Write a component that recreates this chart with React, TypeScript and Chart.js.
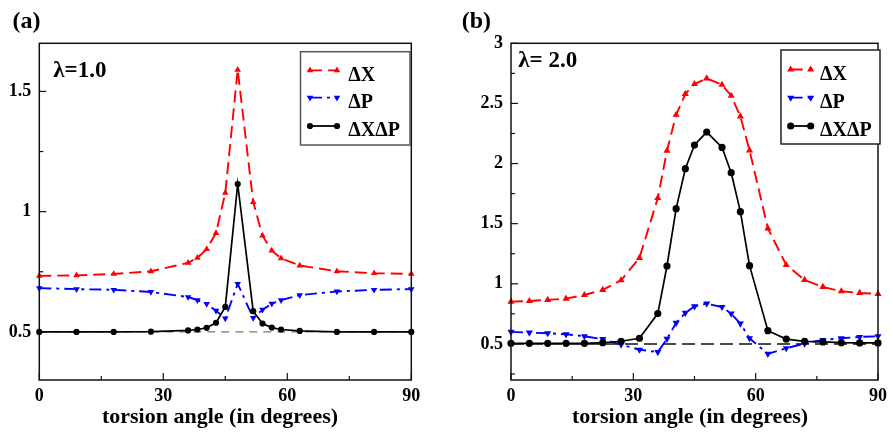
import React, { useEffect, useRef } from 'react';
import { Chart, registerables } from 'chart.js';

Chart.register(...registerables);

// ---------- data ----------
const seriesLabels = ['ΔX', 'ΔP', 'ΔXΔP'];
const xTicks = [0, 30, 60, 90];
const xMinorTicks = [15, 45, 75];
const refX = [0, 90];
const refY = [0.5, 0.5];

// panel (a), lambda = 1.0
const xA = [0, 9, 18, 27, 36, 38.25, 40.5, 42.75, 45, 48, 51.75, 54, 56.25, 58.5, 63, 72, 81, 90];
const dxA = [0.733, 0.735, 0.741, 0.752, 0.787, 0.808, 0.844, 0.911, 1.078, 1.59, 1.04, 0.9, 0.838, 0.806, 0.776, 0.752, 0.744, 0.741];
const dpA = [0.682, 0.678, 0.675, 0.666, 0.645, 0.632, 0.616, 0.588, 0.556, 0.7, 0.558, 0.592, 0.617, 0.632, 0.653, 0.668, 0.675, 0.678];
const dxdpA = [0.5, 0.5, 0.5, 0.501, 0.506, 0.51, 0.517, 0.538, 0.604, 1.115, 0.586, 0.535, 0.518, 0.51, 0.504, 0.5, 0.5, 0.5];
const yTicksA = [0.5, 1, 1.5];
const yMinorA = [0.75, 1.25];

// panel (b), lambda = 2.0
const xB = [0, 4.5, 9, 13.5, 18, 22.5, 27, 31.5, 36, 38.25, 40.5, 42.75, 45, 48, 51.75, 54, 56.25, 58.5, 63, 67.5, 72, 76.5, 81, 85.5, 90];
const dxB = [0.852, 0.857, 0.866, 0.877, 0.907, 0.949, 1.029, 1.215, 1.713, 2.107, 2.406, 2.578, 2.661, 2.708, 2.655, 2.564, 2.392, 2.109, 1.461, 1.156, 1.032, 0.974, 0.938, 0.924, 0.916];
const dpB = [0.6, 0.594, 0.589, 0.58, 0.564, 0.54, 0.494, 0.452, 0.432, 0.542, 0.675, 0.758, 0.813, 0.835, 0.807, 0.752, 0.669, 0.547, 0.417, 0.464, 0.503, 0.533, 0.547, 0.558, 0.564];
const dxdpB = [0.505, 0.505, 0.505, 0.505, 0.505, 0.51, 0.522, 0.547, 0.752, 1.148, 1.625, 1.957, 2.154, 2.262, 2.134, 1.924, 1.6, 1.151, 0.61, 0.54, 0.522, 0.517, 0.51, 0.508, 0.508];
const yTicksB = [0.5, 1, 1.5, 2, 2.5, 3];
const yMinorB = [0.25, 0.75, 1.25, 1.75, 2.25, 2.75];

// ---------- styling ----------
const FONT = '"Liberation Serif", "Times New Roman", serif';
const RED = '#ff0000';
const BLUE = '#0000ff';
const BLACK = '#000000';
const DASH_X = [12, 6];
const DASH_P = [12, 5, 3, 5];

type Cfg = {
  left: number; width: number; height: number;
  area: { l: number; r: number; t: number; b: number };
  x: number[]; dx: number[]; dp: number[]; dxdp: number[];
  yMin: number; yMax: number; yTicks: number[]; yMinor: number[];
  panel: string; panelPos: [number, number];
  lambda: string; lambdaPos: [number, number];
  legendBox: [number, number, number, number]; legendColor: string;
  legX1: number; legX2: number; legTextX: number; legRows: number[]; legBase: number[];
  titleX: number; titleY: number;
  triR: number; circR: number;
  refColor: string; refWidth: number; refDash: number[];
};

const panelA: Cfg = {
  left: 0, width: 440, height: 433,
  area: { l: 39.3, r: 411.3, t: 43.3, b: 380 },
  x: xA, dx: dxA, dp: dpA, dxdp: dxdpA,
  yMin: 0.3, yMax: 1.7, yTicks: yTicksA, yMinor: yMinorA,
  panel: '(a)', panelPos: [12.5, 28],
  lambda: 'λ=1.0', lambdaPos: [53.3, 77],
  legendBox: [300.5, 51.7, 410, 145], legendColor: '#555',
  legX1: 310, legX2: 337, legTextX: 348.3, legRows: [70.3, 97.7, 126], legBase: [81, 108.3, 135.7],
  titleX: 220, titleY: 423,
  triR: 3.8, circR: 3.1,
  refColor: '#555', refWidth: 1, refDash: [8, 6],
};

const panelB: Cfg = {
  left: 440, width: 453, height: 433,
  area: { l: 71, r: 442.7, t: 43.3, b: 380 },
  x: xB, dx: dxB, dp: dpB, dxdp: dxdpB,
  yMin: 0.2, yMax: 3, yTicks: yTicksB, yMinor: yMinorB,
  panel: '(b)', panelPos: [21.7, 28],
  lambda: 'λ= 2.0', lambdaPos: [78.3, 67.3],
  legendBox: [341, 50, 440, 144], legendColor: '#222',
  legX1: 350.7, legX2: 370.7, legTextX: 380, legRows: [69.5, 97.7, 126], legBase: [79.5, 108.3, 135.7],
  titleX: 250, titleY: 423,
  triR: 4.1, circR: 3.6,
  refColor: '#111', refWidth: 1.5, refDash: [13, 6],
};

function marker(ctx: CanvasRenderingContext2D, kind: string, x: number, y: number, r: number, color: string) {
  ctx.save();
  ctx.fillStyle = color;
  ctx.setLineDash([]);
  ctx.beginPath();
  if (kind === 'circle') {
    ctx.arc(x, y, r, 0, Math.PI * 2);
  } else {
    const s = kind === 'up' ? 1 : -1;
    const h = Math.sqrt(3) * r;
    ctx.moveTo(x, y - s * r);
    ctx.lineTo(x + h / 2, y + s * r / 2);
    ctx.lineTo(x - h / 2, y + s * r / 2);
    ctx.closePath();
  }
  ctx.fill();
  ctx.restore();
}

const decorPlugin = {
  id: 'decor',
  afterDraw(chart: any) {
    const cfg: Cfg = chart.options.plugins.decor.cfg;
    const ctx: CanvasRenderingContext2D = chart.ctx;
    const ca = chart.chartArea;
    const xs = chart.scales.x;
    const ys = chart.scales.y;
    ctx.save();
    // ticks (inward)
    ctx.strokeStyle = '#111';
    ctx.lineWidth = 1.2;
    ctx.setLineDash([]);
    const tick = (x1: number, y1: number, x2: number, y2: number) => {
      ctx.beginPath(); ctx.moveTo(x1, y1); ctx.lineTo(x2, y2); ctx.stroke();
    };
    xTicks.forEach((v) => { const p = xs.getPixelForValue(v); tick(p, ca.bottom, p, ca.bottom - 7); });
    xMinorTicks.forEach((v) => { const p = xs.getPixelForValue(v); tick(p, ca.bottom, p, ca.bottom - 4); });
    cfg.yTicks.forEach((v) => { const p = ys.getPixelForValue(v); tick(ca.left, p, ca.left + 7, p); });
    cfg.yMinor.forEach((v) => { const p = ys.getPixelForValue(v); tick(ca.left, p, ca.left + 4, p); });
    // frame
    ctx.strokeStyle = '#111';
    ctx.lineWidth = 1.5;
    ctx.strokeRect(ca.left, ca.top, ca.right - ca.left, ca.bottom - ca.top);

    ctx.fillStyle = '#000';
    ctx.textAlign = 'left';
    ctx.textBaseline = 'alphabetic';
    // panel label
    ctx.font = `bold 24px ${FONT}`;
    ctx.fillText(cfg.panel, cfg.panelPos[0], cfg.panelPos[1]);
    // lambda
    ctx.font = `bold 23px ${FONT}`;
    ctx.fillText(cfg.lambda, cfg.lambdaPos[0], cfg.lambdaPos[1]);
    // axis title
    ctx.font = `bold 22px ${FONT}`;
    ctx.textAlign = 'center';
    ctx.fillText('torsion angle (in degrees)', cfg.titleX, cfg.titleY);

    // legend
    const [bx1, by1, bx2, by2] = cfg.legendBox;
    ctx.fillStyle = '#fff';
    ctx.fillRect(bx1, by1, bx2 - bx1, by2 - by1);
    ctx.strokeStyle = cfg.legendColor;
    ctx.lineWidth = 1.5;
    ctx.strokeRect(bx1, by1, bx2 - bx1, by2 - by1);
    const styles = [
      { color: RED, dash: DASH_X, kind: 'up', r: cfg.triR },
      { color: BLUE, dash: DASH_P, kind: 'down', r: cfg.triR },
      { color: BLACK, dash: [] as number[], kind: 'circle', r: cfg.circR },
    ];
    styles.forEach((s, i) => {
      const y = cfg.legRows[i];
      ctx.strokeStyle = s.color;
      ctx.lineWidth = 1.8;
      ctx.setLineDash(s.dash);
      ctx.beginPath(); ctx.moveTo(cfg.legX1, y); ctx.lineTo(cfg.legX2, y); ctx.stroke();
      ctx.setLineDash([]);
      marker(ctx, s.kind, cfg.legX1, y, s.r, s.color);
      marker(ctx, s.kind, cfg.legX2, y, s.r, s.color);
      ctx.fillStyle = '#000';
      ctx.font = `bold 20px ${FONT}`;
      ctx.textAlign = 'left';
      ctx.fillText(seriesLabels[i], cfg.legTextX, cfg.legBase[i]);
    });
    ctx.restore();
  },
};

function Panel({ cfg }: { cfg: Cfg }) {
  const ref = useRef<HTMLCanvasElement>(null);
  useEffect(() => {
    if (!ref.current) return;
    const pts = (ys: number[]) => cfg.x.map((v, i) => ({ x: v, y: ys[i] }));
    const tickFont = { family: FONT, weight: 'bold' as const, size: 18 };
    const chart = new Chart(ref.current, {
      type: 'line',
      data: {
        datasets: [
          {
            label: seriesLabels[2], data: pts(cfg.dxdp), borderColor: BLACK, backgroundColor: BLACK,
            borderWidth: 1.7, pointStyle: 'circle', pointRadius: cfg.circR, pointBorderWidth: 0,
            tension: 0, order: 1, clip: false,
          },
          {
            label: seriesLabels[1], data: pts(cfg.dp), borderColor: BLUE, backgroundColor: BLUE,
            borderWidth: 1.9, borderDash: DASH_P, pointStyle: 'triangle', pointRotation: 180,
            pointRadius: cfg.triR, pointBorderWidth: 0, tension: 0, order: 2, clip: false,
          },
          {
            label: seriesLabels[0], data: pts(cfg.dx), borderColor: RED, backgroundColor: RED,
            borderWidth: 1.9, borderDash: DASH_X, pointStyle: 'triangle',
            pointRadius: cfg.triR, pointBorderWidth: 0, tension: 0, order: 3, clip: false,
          },
          {
            label: 'ref', data: refX.map((v, i) => ({ x: v, y: refY[i] })), borderColor: cfg.refColor,
            borderWidth: cfg.refWidth, borderDash: cfg.refDash, pointRadius: 0, tension: 0, order: 4,
          },
        ],
      } as any,
      options: {
        responsive: false,
        animation: false,
        events: [],
        layout: { padding: { top: cfg.area.t, right: cfg.width - cfg.area.r, left: 0, bottom: 0 } },
        plugins: {
          legend: { display: false },
          tooltip: { enabled: false },
          decor: { cfg },
        } as any,
        scales: {
          x: {
            type: 'linear', min: 0, max: 90,
            afterBuildTicks: (s: any) => { s.ticks = xTicks.map((v) => ({ value: v })); },
            afterFit: (s: any) => { s.height = cfg.height - cfg.area.b; },
            grid: { display: false, drawTicks: false },
            border: { display: false },
            ticks: { font: tickFont, color: '#000', padding: 6, maxRotation: 0, autoSkip: false, callback: (v: any) => String(v) },
          },
          y: {
            type: 'linear', min: cfg.yMin, max: cfg.yMax,
            afterBuildTicks: (s: any) => { s.ticks = cfg.yTicks.map((v) => ({ value: v })); },
            afterFit: (s: any) => { s.width = cfg.area.l; },
            grid: { display: false, drawTicks: false },
            border: { display: false },
            ticks: { font: tickFont, color: '#000', padding: 8, autoSkip: false, callback: (v: any) => String(v) },
          },
        },
      } as any,
      plugins: [decorPlugin],
    });
    return () => chart.destroy();
  }, [cfg]);
  return (
    <canvas
      ref={ref}
      width={cfg.width}
      height={cfg.height}
      style={{ position: 'absolute', left: cfg.left, top: 0, width: cfg.width, height: cfg.height, display: 'block' }}
    />
  );
}

export default function App() {
  return (
    <div style={{ position: 'absolute', left: 0, top: 0, width: 893, height: 433, background: '#fff', overflow: 'hidden' }}>
      <Panel cfg={panelA} />
      <Panel cfg={panelB} />
    </div>
  );
}
